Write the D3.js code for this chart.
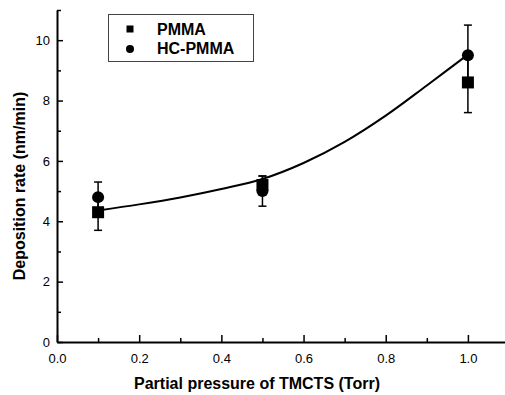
<!DOCTYPE html>
<html>
<head>
<meta charset="utf-8">
<script src="https://cdn.jsdelivr.net/npm/d3@7"></script>
<style>
  body { margin: 0; background: #fff; }
  text { font-family: "Liberation Sans", Arial, sans-serif; fill: #000; }
</style>
</head>
<body>
<svg id="chart"></svg>
<script>
const width = 505;
const height = 395;

// measured points
const pressure = [0.1, 0.5, 1.0];
const pmma = [4.3, 5.2, 8.6];
const pmmaErr = [0.6, 0.3, 1.0];
const hcPmma = [4.8, 5.0, 9.5];
const hcPmmaErr = [0.5, 0.5, 1.0];

// fitted curve
const fitX = [0.1, 0.2, 0.3, 0.4, 0.5, 0.6, 0.7, 0.8, 0.9, 1.0];
const fitY = [4.36, 4.56, 4.79, 5.07, 5.40, 5.93, 6.63, 7.50, 8.50, 9.52];

const xTicks = [0.0, 0.2, 0.4, 0.6, 0.8, 1.0];
const xMinor = [0.1, 0.3, 0.5, 0.7, 0.9];
const yTicks = [0, 2, 4, 6, 8, 10];
const yMinor = [1, 3, 5, 7, 9, 11];

const svg = d3.select("#chart")
  .attr("width", width)
  .attr("height", height);

const x = d3.scaleLinear().domain([0, 1.1]).range([57, 509]);
const y = d3.scaleLinear().domain([0, 11]).range([342, 10]);

// minor ticks
svg.append("g")
  .attr("transform", "translate(0,342)")
  .call(d3.axisBottom(x).tickValues(xMinor).tickSize(-4).tickSizeOuter(0).tickFormat(""))
  .call(g => g.select(".domain").remove())
  .selectAll("line").attr("stroke-width", 1.5);

svg.append("g")
  .attr("transform", "translate(57,0)")
  .call(d3.axisLeft(y).tickValues(yMinor).tickSize(-4).tickSizeOuter(0).tickFormat(""))
  .call(g => g.select(".domain").remove())
  .selectAll("line").attr("stroke-width", 1.5);

// major axes
const xAxis = svg.append("g")
  .attr("transform", "translate(0,342)")
  .call(d3.axisBottom(x).tickValues(xTicks).tickSize(-7).tickSizeOuter(0)
    .tickPadding(12).tickFormat(d3.format(".1f")));

const yAxis = svg.append("g")
  .attr("transform", "translate(57,0)")
  .call(d3.axisLeft(y).tickValues(yTicks).tickSize(-6).tickSizeOuter(0)
    .tickPadding(7).tickFormat(d3.format("d")));

[xAxis, yAxis].forEach(g => {
  g.select(".domain").attr("stroke-width", 2);
  g.selectAll(".tick line").attr("stroke-width", 1.5);
  g.selectAll("text")
    .style("font-family", "'Liberation Sans', Arial, sans-serif")
    .style("font-size", "13px")
    .attr("fill", "#000");
});

// axis titles
svg.append("text")
  .attr("x", 257)
  .attr("y", 389)
  .attr("text-anchor", "middle")
  .style("font-size", "16px")
  .style("font-weight", "bold")
  .text("Partial pressure of TMCTS (Torr)");

svg.append("text")
  .attr("transform", "translate(25,186) rotate(-90)")
  .attr("text-anchor", "middle")
  .style("font-size", "16px")
  .style("font-weight", "bold")
  .text("Deposition rate (nm/min)");

// fitted curve
const line = d3.line()
  .x(d => x(d[0]))
  .y(d => y(d[1]))
  .curve(d3.curveCatmullRom);

svg.append("path")
  .datum(fitX.map((v, i) => [v, fitY[i]]))
  .attr("d", line)
  .attr("fill", "none")
  .attr("stroke", "#000")
  .attr("stroke-width", 2);

// error bars
function errorBars(vals, errs) {
  const g = svg.append("g").attr("stroke", "#000").attr("stroke-width", 1.5);
  pressure.forEach((p, i) => {
    const cx = x(p);
    const top = y(vals[i] + errs[i]);
    const bot = y(vals[i] - errs[i]);
    g.append("line").attr("x1", cx).attr("x2", cx).attr("y1", top).attr("y2", bot);
    g.append("line").attr("x1", cx - 4).attr("x2", cx + 4).attr("y1", top).attr("y2", top);
    g.append("line").attr("x1", cx - 4).attr("x2", cx + 4).attr("y1", bot).attr("y2", bot);
  });
}
errorBars(pmma, pmmaErr);
errorBars(hcPmma, hcPmmaErr);

// markers
svg.selectAll(".sq")
  .data(pressure)
  .enter()
  .append("rect")
  .attr("class", "sq")
  .attr("x", (d, i) => x(d) - 6)
  .attr("y", (d, i) => y(pmma[i]) - 6)
  .attr("width", 12)
  .attr("height", 12)
  .attr("fill", "#000");

svg.selectAll(".dot")
  .data(pressure)
  .enter()
  .append("circle")
  .attr("class", "dot")
  .attr("cx", d => x(d))
  .attr("cy", (d, i) => y(hcPmma[i]))
  .attr("r", 6)
  .attr("fill", "#000");

// legend
const legend = svg.append("g");
legend.append("rect")
  .attr("x", 108.5).attr("y", 14.5)
  .attr("width", 145).attr("height", 47)
  .attr("fill", "none")
  .attr("stroke", "#444")
  .attr("stroke-width", 1);

legend.append("rect")
  .attr("x", 126.5).attr("y", 25.5)
  .attr("width", 7).attr("height", 7)
  .attr("fill", "#000");
legend.append("circle")
  .attr("cx", 130).attr("cy", 49)
  .attr("r", 4)
  .attr("fill", "#000");

legend.append("text")
  .attr("x", 157).attr("y", 35)
  .style("font-size", "16px").style("font-weight", "bold")
  .text("PMMA");
legend.append("text")
  .attr("x", 157).attr("y", 54)
  .style("font-size", "16px").style("font-weight", "bold")
  .text("HC-PMMA");
</script>
</body>
</html>
